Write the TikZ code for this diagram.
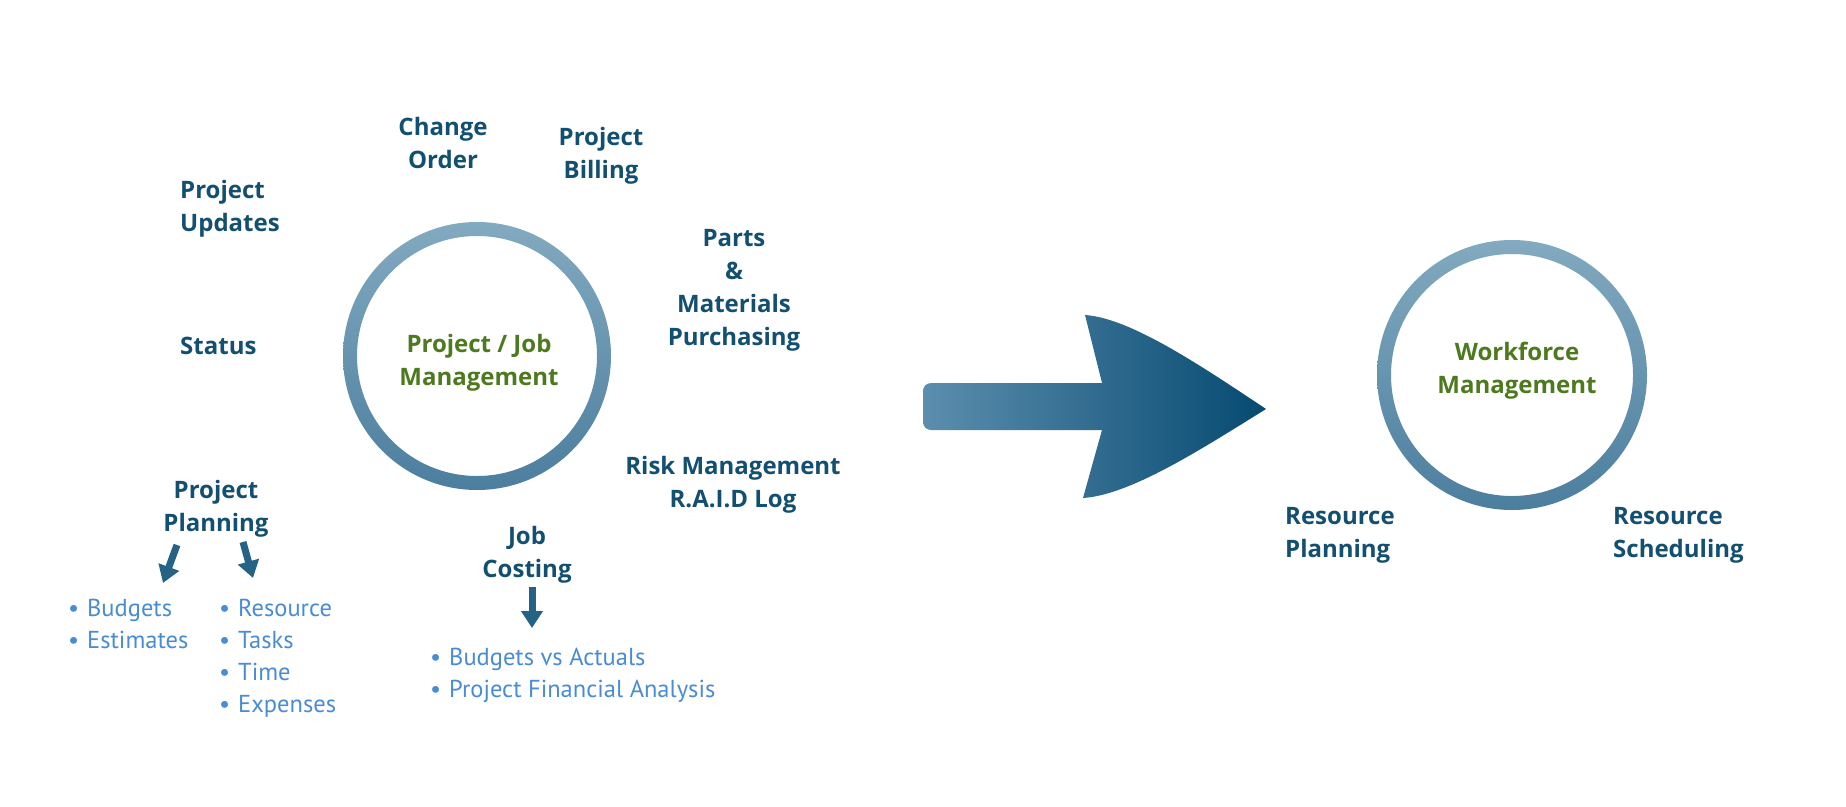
\documentclass[tikz,border=0pt]{standalone}
\usepackage{fontspec}
\setmainfont{Open Sans}
\newfontfamily\listfont{PT Sans}
\usetikzlibrary{arrows.meta}
\definecolor{navy}{RGB}{19,79,112}
\definecolor{leaf}{RGB}{77,122,31}
\definecolor{sky}{RGB}{74,140,212}
\definecolor{ringtop}{RGB}{130,170,192}
\definecolor{ringbot}{RGB}{76,126,158}
\definecolor{arrowl}{RGB}{92,142,174}
\definecolor{arrowr}{RGB}{6,74,113}
\definecolor{smallarr}{RGB}{38,98,134}
\newcommand{\bul}{\makebox[20pt][l]{\hspace{1pt}\textbullet}}
\tikzset{
  lbl/.style={font=\fontsize{24}{33}\selectfont\bfseries, text=navy, inner sep=0pt, anchor=base, align=center},
  lblleft/.style={lbl, anchor=base west, align=left},
  hub/.style={lbl, text=leaf},
  bullets/.style={font=\listfont\fontsize{24.5}{32}\selectfont, text=sky, inner sep=0pt, anchor=base west, align=left},
  smallarrow/.style={draw=smallarr, line width=7pt, -{Triangle[width=21pt,length=17pt]}},
}
\begin{document}
\begin{tikzpicture}[x=1pt,y=-1pt]
\fill[white] (0,0) rectangle (1846,806);
\useasboundingbox (0,0) rectangle (1846,806);

% rings
\shade[top color=ringtop, bottom color=ringbot, even odd rule]
  (477,356) circle (134pt) (477,356) circle (120pt);
\shade[top color=ringtop, bottom color=ringbot, even odd rule]
  (1512,375) circle (135pt) (1512,375) circle (121pt);

% big arrow
\shade[left color=arrowl, right color=arrowr]
  (1102,383) -- (1085,315) .. controls (1130,318) and (1200,365) .. (1266,409)
  .. controls (1200,450) and (1130,495) .. (1083,498) -- (1102,430)
  -- (932,430) .. controls (926,430) and (923,427) .. (923,421)
  -- (923,392) .. controls (923,386) and (926,383) .. (932,383) -- cycle;

% hub texts (anchor = baseline of the last line)
\node[hub] (pj) at (479,385) {Project / Job\\Management};
\node[hub] (wf) at (1517,393) {Workforce\\Management};

% labels
\node[lbl] (chg) at (443,168) {Change\\Order};
\node[lbl] (bill) at (601,178) {Project\\Billing};
\node[lblleft] (upd) at (180,231) {Project\\Updates};
\node[lblleft] (status) at (180,354) {Status};
\node[lbl] (parts) at (734,345) {Parts\\\&\\Materials\\Purchasing};
\node[lbl] (risk) at (733,507) {Risk Management\\R.A.I.D Log};
\node[lbl] (pp) at (216,531) {Project\\Planning};
\node[lbl] (jc) at (527,577) {Job\\Costing};
\node[lblleft] (rp) at (1285,557) {Resource\\Planning};
\node[lblleft] (rs) at (1613,557) {Resource\\Scheduling};

% bullet lists
\node[bullets] (bl1) at (67,648) {\bul Budgets\\\bul Estimates};
\node[bullets] (bl2) at (218,712) {\bul Resource\\\bul Tasks\\\bul Time\\\bul Expenses};
\node[bullets] (bl3) at (429,697) {\bul Budgets vs Actuals\\\bul Project Financial Analysis};

% small arrows
\coordinate (pa1s) at (177,545);
\coordinate (pa1e) at (163,583);
\coordinate (pa2s) at (243,542);
\coordinate (pa2e) at (253,578);
\coordinate (jcs) at (532,587);
\coordinate (jce) at (532,628);
\draw[smallarrow] (pa1s) -- (pa1e);
\draw[smallarrow] (pa2s) -- (pa2e);
\draw[smallarrow] (jcs) -- (jce);
\end{tikzpicture}
\end{document}
